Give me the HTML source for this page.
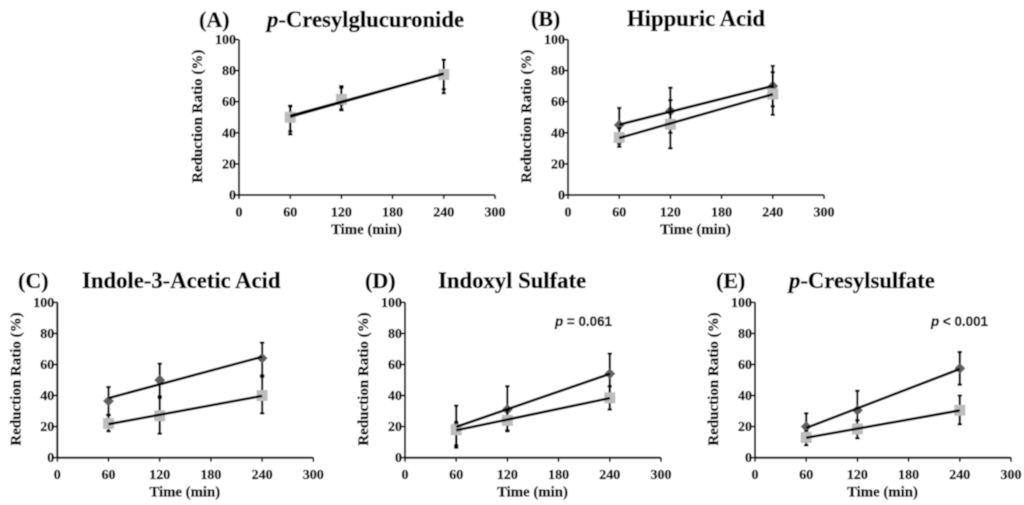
<!DOCTYPE html>
<html lang="en">
<head>
<meta charset="utf-8">
<title>Reduction Ratio Charts</title>
<style>
html,body{margin:0;padding:0;background:#fff;}
svg{display:block;}
text{font-family:"Liberation Serif",serif;font-weight:bold;fill:#000;stroke:#000;stroke-width:0.35px;}
.pv{font-family:"Liberation Sans",sans-serif;font-size:13.4px;stroke-width:0.3px;}
.ttl{font-size:22.7px;}
.lbl{font-size:22px;}
</style>
</head>
<body>
<svg id="fig" width="1024" height="505" viewBox="0 0 1024 505" xmlns="http://www.w3.org/2000/svg">
<defs><filter id="soft" x="0" y="0" width="100%" height="100%"><feGaussianBlur stdDeviation="0.45"/></filter></defs>
<g id="root" filter="url(#soft)">
<rect width="1024" height="505" fill="#fff"/>
<text class="lbl" x="199" y="27">(A)</text>
<text class="ttl" x="267" y="27"><tspan font-style="italic">p</tspan>-Cresylglucuronide</text>
<text class="lbl" x="531" y="26">(B)</text>
<text class="ttl" x="627" y="26">Hippuric Acid</text>
<text class="lbl" x="18" y="288">(C)</text>
<text class="ttl" x="82" y="288">Indole-3-Acetic Acid</text>
<text class="lbl" x="365" y="288">(D)</text>
<text class="ttl" x="438" y="288">Indoxyl Sulfate</text>
<text class="lbl" x="716" y="288">(E)</text>
<text class="ttl" x="789" y="288"><tspan font-style="italic">p</tspan>-Cresylsulfate</text>
<text class="pv" x="555" y="326"><tspan font-style="italic">p</tspan> = 0.061</text>
<text class="pv" x="931" y="326"><tspan font-style="italic">p</tspan> &lt; 0.001</text>
</g>
</svg>
<script>
var categories = [60, 120, 240];
var xTickLabels = [0, 60, 120, 180, 240, 300];
var yTickLabels = [0, 20, 40, 60, 80, 100];
var yAxisTitle = "Reduction Ratio (%)";
var xAxisTitle = "Time (min)";

var panelASeries1 = [50, 60, 78];
var panelASeries1High = [57.5, 69, 87];
var panelASeries1Low = [41, 54.5, 68];
var panelASeries2 = [50, 61.5, 77.5];
var panelASeries2High = [57, 70, 87];
var panelASeries2Low = [39, 55, 65.5];

var panelBSeries1 = [45, 54, 70];
var panelBSeries1High = [56, 69, 83];
var panelBSeries1Low = [33, 40, 57];
var panelBSeries2 = [37, 45.5, 65];
var panelBSeries2High = [43, 61, 79];
var panelBSeries2Low = [31, 30, 51.5];

var panelCSeries1 = [36.5, 50, 64];
var panelCSeries1High = [45.5, 60.5, 74];
var panelCSeries1Low = [27.5, 39.5, 53];
var panelCSeries2 = [22, 27, 40];
var panelCSeries2High = [27.5, 38.5, 52];
var panelCSeries2Low = [17, 15.5, 28.5];

var panelDSeries1 = [20, 31, 54];
var panelDSeries1High = [33.5, 46, 67];
var panelDSeries1Low = [8, 17.5, 41];
var panelDSeries2 = [18, 24, 38.5];
var panelDSeries2High = [23, 31, 46];
var panelDSeries2Low = [6.5, 17, 31];

var panelESeries1 = [20, 30.5, 57.5];
var panelESeries1High = [28.5, 43, 68];
var panelESeries1Low = [11, 18, 47];
var panelESeries2 = [13, 18.5, 30.5];
var panelESeries2High = [17, 24, 40];
var panelESeries2Low = [8, 12.5, 21.5];

var root = document.getElementById('root');
var NS = 'http://www.w3.org/2000/svg';

function make(tag, attrs, parent) {
  var el = document.createElementNS(NS, tag);
  for (var k in attrs) { el.setAttribute(k, attrs[k]); }
  parent.appendChild(el);
  return el;
}

function fit(xs, ys) {
  var n = xs.length, mx = 0, my = 0, sxx = 0, sxy = 0, i;
  for (i = 0; i < n; i++) { mx += xs[i] / n; my += ys[i] / n; }
  for (i = 0; i < n; i++) { sxx += (xs[i] - mx) * (xs[i] - mx); sxy += (xs[i] - mx) * (ys[i] - my); }
  var b = sxy / sxx;
  return function (x) { return my + b * (x - mx); };
}

function drawSeries(group, xAt, yAt, vals, hi, lo, kind, key) {
  var i;
  for (i = 0; i < categories.length; i++) {
    var px = xAt(categories[i]);
    var bar = make('path', {
      d: 'M' + px + ' ' + yAt(hi[i]) + 'V' + yAt(lo[i]) +
         'M' + (px - 2.2) + ' ' + yAt(hi[i]) + 'H' + (px + 2.2) +
         'M' + (px - 2.2) + ' ' + yAt(lo[i]) + 'H' + (px + 2.2),
      stroke: '#000', 'stroke-width': 2.2, fill: 'none'
    }, group);
    
    
  }
  for (i = 0; i < categories.length; i++) {
    var cx = xAt(categories[i]), cy = yAt(vals[i]), mark;
    if (kind === 'diamond') {
      mark = make('path', {
        d: 'M' + cx + ' ' + (cy - 5.5) + 'L' + (cx + 5.5) + ' ' + cy + 'L' + cx + ' ' + (cy + 5.5) + 'L' + (cx - 5.5) + ' ' + cy + 'Z',
        fill: '#606060'
      }, group);
    } else {
      mark = make('rect', { x: cx - 5.5, y: cy - 5.5, width: 11, height: 11, fill: '#bdbdbd' }, group);
    }
    
    
  }
}

function drawTrend(group, xAt, yAt, vals, width, key) {
  var f = fit(categories, vals);
  var first = categories[0], last = categories[categories.length - 1];
  var line = make('line', {
    x1: xAt(first), y1: yAt(f(first)), x2: xAt(last), y2: yAt(f(last)),
    stroke: '#000', 'stroke-width': width
  }, group);
  
  
}

function drawPanel(key, x0, yTop, yBottom, s1, s1h, s1l, s2, s2h, s2l, lineWidth) {
  var xMax = xTickLabels[xTickLabels.length - 1];
  var yMax = yTickLabels[yTickLabels.length - 1];
  var plotWidth = 256;
  function xAt(v) { return x0 + v / xMax * plotWidth; }
  function yAt(v) { return yBottom - v / yMax * (yBottom - yTop); }

  var g = make('g', {}, root);
  
  

  var axes = make('path', {
    d: 'M' + x0 + ' ' + yTop + 'V' + yBottom + 'H' + (x0 + plotWidth),
    stroke: '#000', 'stroke-width': 2, fill: 'none'
  }, g);
  
  

  xTickLabels.forEach(function (t) {
    var tick = make('line', { x1: xAt(t), x2: xAt(t), y1: yBottom, y2: yBottom + 4, stroke: '#000', 'stroke-width': 1.7 }, g);
    
    
    var lab = make('text', { x: xAt(t), y: yBottom + 21.5, 'text-anchor': 'middle', 'font-size': 14 }, g);
    lab.textContent = t;
    
    
  });
  yTickLabels.forEach(function (t) {
    var tick = make('line', { x1: x0 - 4, x2: x0, y1: yAt(t), y2: yAt(t), stroke: '#000', 'stroke-width': 1.7 }, g);
    
    
    var lab = make('text', { x: x0 - 3, y: yAt(t) + 4.5, 'text-anchor': 'end', 'font-size': 14 }, g);
    lab.textContent = t;
    
    
  });

  var xt = make('text', { x: x0 + 127.5, y: yBottom + 39, 'text-anchor': 'middle', 'font-size': 14.8 }, g);
  xt.textContent = xAxisTitle;
  
  

  var yMid = (yTop + yBottom) / 2 - 1;
  var yt = make('text', {
    x: 0, y: 0, 'text-anchor': 'middle', 'font-size': 15,
    transform: 'translate(' + (x0 - 37) + ' ' + yMid + ') rotate(-90)'
  }, g);
  yt.textContent = yAxisTitle;
  
  

  drawSeries(g, xAt, yAt, s1, s1h, s1l, 'diamond', key + '-series-1');
  drawSeries(g, xAt, yAt, s2, s2h, s2l, 'square', key + '-series-2');
  drawTrend(g, xAt, yAt, s1, lineWidth, key + '-series-1');
  drawTrend(g, xAt, yAt, s2, lineWidth, key + '-series-2');
}

drawPanel('panel-a', 239, 39.5, 195, panelASeries1, panelASeries1High, panelASeries1Low, panelASeries2, panelASeries2High, panelASeries2Low, 2.6);
drawPanel('panel-b', 568, 39.5, 195, panelBSeries1, panelBSeries1High, panelBSeries1Low, panelBSeries2, panelBSeries2High, panelBSeries2Low, 2.6);
drawPanel('panel-c', 57.3, 302.3, 457.7, panelCSeries1, panelCSeries1High, panelCSeries1Low, panelCSeries2, panelCSeries2High, panelCSeries2Low, 2.6);
drawPanel('panel-d', 405, 302.3, 457.7, panelDSeries1, panelDSeries1High, panelDSeries1Low, panelDSeries2, panelDSeries2High, panelDSeries2Low, 2.6);
drawPanel('panel-e', 755, 302.3, 457.7, panelESeries1, panelESeries1High, panelESeries1Low, panelESeries2, panelESeries2High, panelESeries2Low, 2.6);
</script>
</body>
</html>
